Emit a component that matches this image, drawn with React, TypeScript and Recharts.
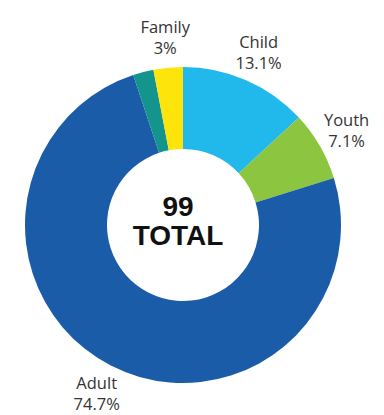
import React from "react";
import { PieChart, Pie, Cell } from "recharts";

const categories = ["Child", "Youth", "Adult", "", "Family"];
const values = [13.1, 7.1, 74.7, 2.1, 3];
const valueLabels = ["13.1%", "7.1%", "74.7%", "", "3%"];
const colors = ["#21b8ec", "#8cc540", "#1b5ca8", "#13958e", "#fde50c"];
const totalLabel = "99";
const totalWord = "TOTAL";

const data = categories.map((name, i) => ({ name, value: values[i], text: valueLabels[i] }));

const RAD = Math.PI / 180;
const CX = 170;
const CY = 212;

const renderLabel = (props: any) => {
  const { cx, cy, midAngle, outerRadius, index } = props;
  const name = categories[index];
  if (!name) return null;
  const r = outerRadius + 31;
  const x = cx + r * Math.cos(-midAngle * RAD);
  const y = cy + r * Math.sin(-midAngle * RAD);
  return (
    <text
      x={x}
      y={y}
      textAnchor="middle"
      fontFamily="'Open Sans', sans-serif"
      fontSize={16.5}
      fill="#333"
    >
      <tspan x={x} y={y - 10.5} dominantBaseline="central">{name}</tspan>
      <tspan x={x} y={y + 10.5} dominantBaseline="central">{valueLabels[index]}</tspan>
    </text>
  );
};

export default function App() {
  return (
    <div style={{ width: 376, height: 407 }}>
      <PieChart width={376} height={407}>
        <Pie
          data={data}
          dataKey="value"
          nameKey="name"
          cx={CX}
          cy={CY}
          innerRadius={76}
          outerRadius={158}
          startAngle={90}
          endAngle={-270}
          stroke="none"
          labelLine={false}
          label={renderLabel}
          isAnimationActive={false}
        >
          {data.map((d, i) => (
            <Cell key={i} fill={colors[i]} />
          ))}
        </Pie>
        <text x={CX} y={CY - 14} textAnchor="middle" dominantBaseline="central"
          fontFamily="'Liberation Sans', Arial, sans-serif" fontWeight={700} fontSize={28} fill="#111">
          {totalLabel}
        </text>
        <text x={CX} y={CY + 15} textAnchor="middle" dominantBaseline="central"
          fontFamily="'Liberation Sans', Arial, sans-serif" fontWeight={700} fontSize={28} fill="#111">
          {totalWord}
        </text>
      </PieChart>
    </div>
  );
}
